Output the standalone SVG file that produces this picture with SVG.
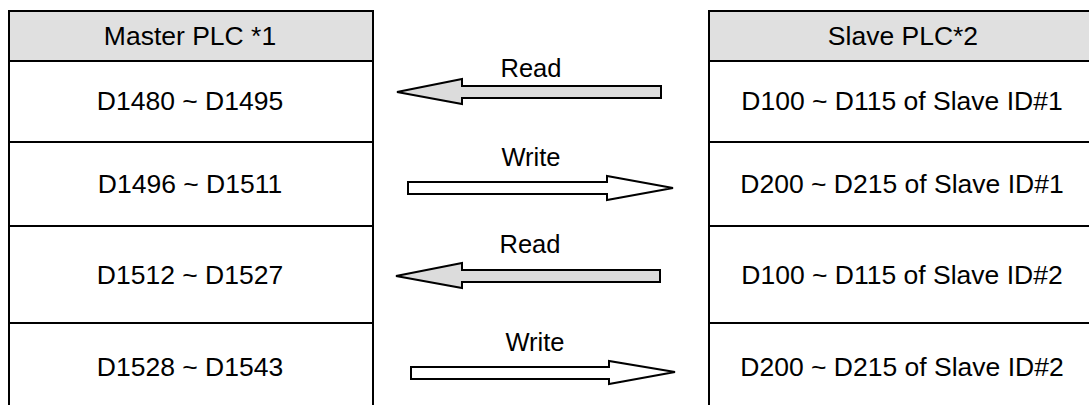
<svg xmlns="http://www.w3.org/2000/svg" width="1089" height="405" viewBox="0 0 1089 405">
<style>
.cell{fill:#ffffff;stroke:#000;stroke-width:2}
.head{fill:#e0e0e0;stroke:#000;stroke-width:2}
.t{font-family:"Liberation Sans",Arial,sans-serif;font-size:26.5px;fill:#000;text-anchor:middle}
.lbl{font-family:"Liberation Sans",Arial,sans-serif;font-size:25.5px;fill:#000;text-anchor:middle}
.read{fill:#dcdcdc;stroke:#000;stroke-width:2;stroke-linejoin:miter}
.write{fill:#ffffff;stroke:#000;stroke-width:2;stroke-linejoin:miter}
</style>
<rect width="1089" height="405" fill="#ffffff"/>
<g id="master">
<g id="master-header"><rect class="head" x="9" y="11" width="364" height="50"/><text class="t" x="190" y="45">Master PLC *1</text></g>
<g id="master-r1"><rect class="cell" x="9" y="61" width="364" height="81"/><text class="t" x="190" y="110">D1480 ~ D1495</text></g>
<g id="master-r2"><rect class="cell" x="9" y="142" width="364" height="84"/><text class="t" x="190" y="193">D1496 ~ D1511</text></g>
<g id="master-r3"><rect class="cell" x="9" y="226" width="364" height="97"/><text class="t" x="190" y="284">D1512 ~ D1527</text></g>
<g id="master-r4"><rect class="cell" x="9" y="323" width="364" height="100"/><text class="t" x="190" y="376">D1528 ~ D1543</text></g>
</g>
<g id="slave">
<g id="slave-header"><rect class="head" x="709" y="11" width="400" height="50"/><text class="t" x="903" y="45">Slave PLC*2</text></g>
<g id="slave-r1"><rect class="cell" x="709" y="61" width="400" height="81"/><text class="t" x="902" y="110">D100 ~ D115 of Slave ID#1</text></g>
<g id="slave-r2"><rect class="cell" x="709" y="142" width="400" height="84"/><text class="t" x="902" y="193">D200 ~ D215 of Slave ID#1</text></g>
<g id="slave-r3"><rect class="cell" x="709" y="226" width="400" height="97"/><text class="t" x="902" y="284">D100 ~ D115 of Slave ID#2</text></g>
<g id="slave-r4"><rect class="cell" x="709" y="323" width="400" height="100"/><text class="t" x="902" y="376">D200 ~ D215 of Slave ID#2</text></g>
</g>
<g id="connectors">
<g id="read1"><polygon class="read" points="397,92 462,79 462,86 661,86 661,98 462,98 462,104"/><text class="lbl" x="531" y="77">Read</text></g>
<g id="write1"><polygon class="write" points="408,182 607,182 607,176 673,188 607,200 607,194 408,194"/><text class="lbl" x="531" y="166">Write</text></g>
<g id="read2"><polygon class="read" points="396,276 462,263 462,270 660,270 660,282 462,282 462,288"/><text class="lbl" x="530" y="253">Read</text></g>
<g id="write2"><polygon class="write" points="411,367 609,367 609,361 675,372 609,384 609,379 411,379"/><text class="lbl" x="535" y="351">Write</text></g>
</g>
</svg>
